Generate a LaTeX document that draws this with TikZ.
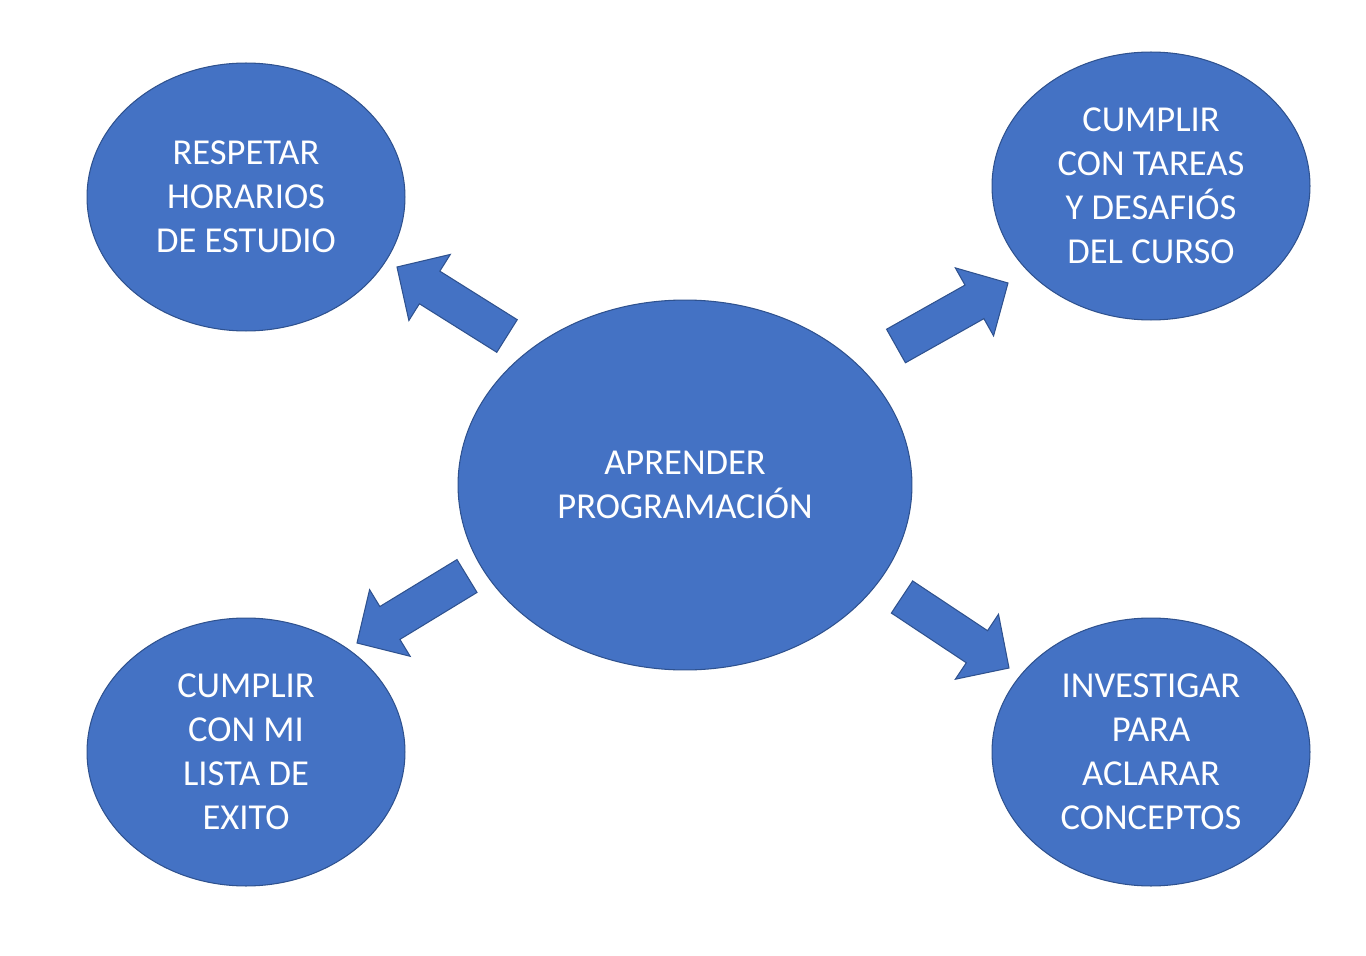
\documentclass[tikz,border=0pt]{standalone}
\usepackage{fontspec}
\setmainfont{Carlito}
\usetikzlibrary{shapes.geometric, calc}
\definecolor{OfficeBlue}{HTML}{4472C4}
\definecolor{OfficeEdge}{HTML}{2F528F}

% block arrow from tail coordinate #1 to tip coordinate #2
\newcommand{\fatarrow}[2]{%
  \coordinate (#1-hb) at ($(#2)!0.77cm!(#1)$);
  \draw[draw=OfficeEdge, fill=OfficeBlue, line width=0.6pt]
    ($(#1)!0.385cm!90:(#2)$) -- ($(#1-hb)!0.385cm!90:(#2)$) -- ($(#1-hb)!0.78cm!90:(#2)$)
    -- (#2) -- ($(#1-hb)!0.78cm!-90:(#2)$) -- ($(#1-hb)!0.385cm!-90:(#2)$)
    -- ($(#1)!0.385cm!-90:(#2)$) -- cycle;}

\begin{document}
\begin{tikzpicture}[x=0.02cm, y=-0.02cm, every node/.style={font=\fontsize{20.8}{25}\selectfont, align=center, text=white}]
                \useasboundingbox (0,0) rectangle (1366,956);
                \tikzset{bubble/.style={ellipse, draw=OfficeEdge, fill=OfficeBlue, line width=0.6pt, inner sep=0pt}}

                \node[bubble, minimum width=9.08cm, minimum height=7.4cm] (learn) at (685,485) {APRENDER\\PROGRAMACIÓN};
                \node[bubble, minimum width=6.36cm, minimum height=5.36cm] (schedule) at (246,197) {RESPETAR\\HORARIOS\\DE ESTUDIO};
                \node[bubble, minimum width=6.36cm, minimum height=5.36cm] (tasks) at (1151,186) {CUMPLIR\\CON TAREAS\\Y DESAFIÓS\\DEL CURSO};
                \node[bubble, minimum width=6.36cm, minimum height=5.36cm] (list) at (246,752) {CUMPLIR\\CON MI\\LISTA DE\\EXITO};
                \node[bubble, minimum width=6.36cm, minimum height=5.36cm] (research) at (1151,752) {INVESTIGAR\\PARA\\ACLARAR\\CONCEPTOS};

                % Arrows
                \coordinate (tlTail) at (507,336); \coordinate (tlTip) at (397,267);
                \coordinate (trTail) at (896,346); \coordinate (trTip) at (1008,283);
                \coordinate (blTail) at (467,576); \coordinate (blTip) at (357,643);
                \coordinate (brTail) at (902,597); \coordinate (brTip) at (1009,668);
                \fatarrow{tlTail}{tlTip}
                \fatarrow{trTail}{trTip}
                \fatarrow{blTail}{blTip}
                \fatarrow{brTail}{brTip}
            \end{tikzpicture}
\end{document}
